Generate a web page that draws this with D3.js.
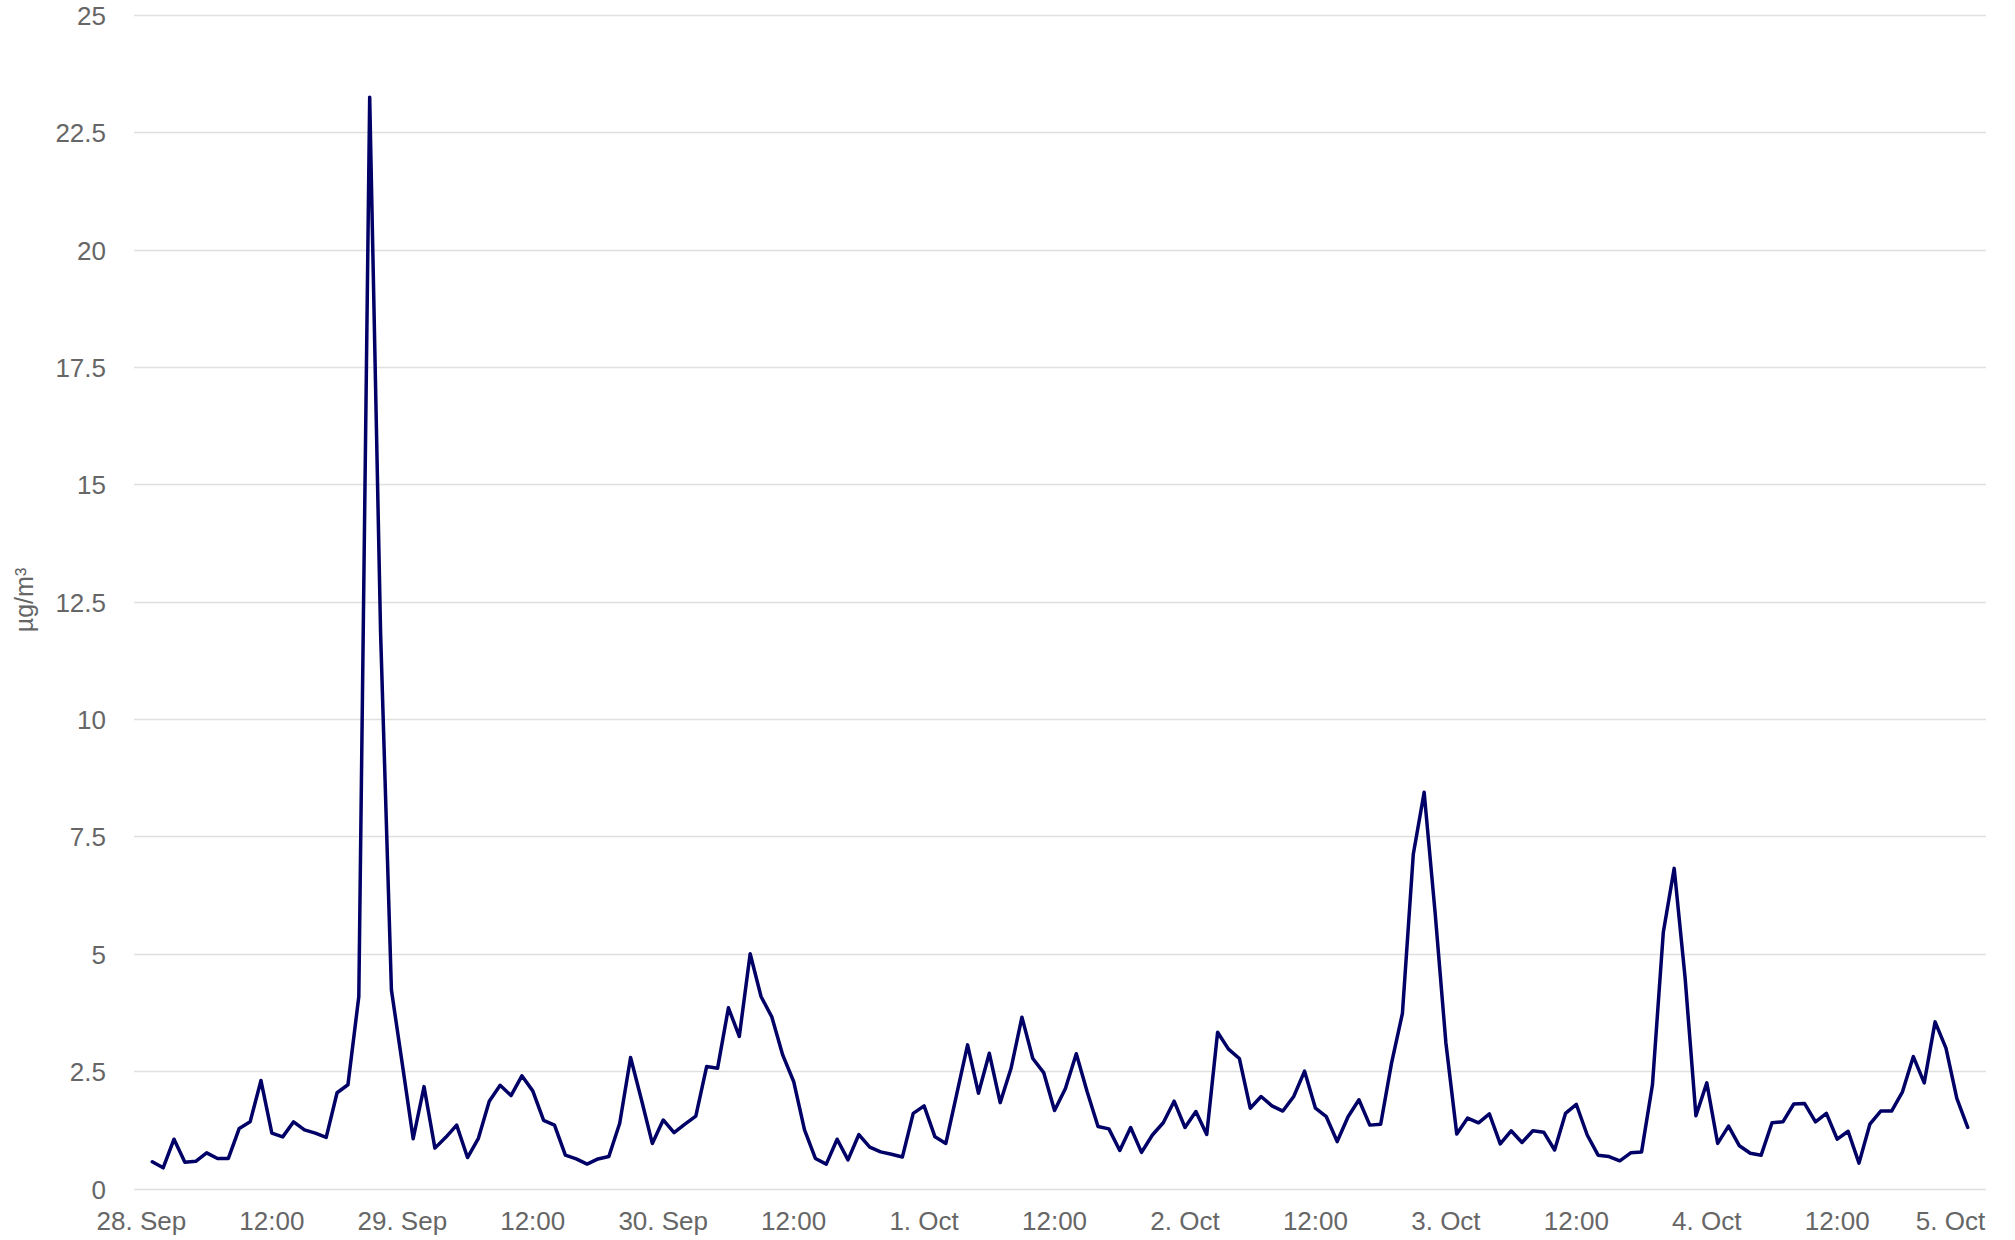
<!DOCTYPE html>
<html>
<head>
<meta charset="utf-8">
<script src="https://cdn.jsdelivr.net/npm/d3@7"></script>
<style>
  html, body { margin: 0; padding: 0; background: #fff; }
  svg { display: block; }
  text { font-family: "Liberation Sans", Arial, Helvetica, sans-serif; fill: #666666; }
</style>
</head>
<body>
<svg id="chart" width="2015" height="1240"></svg>
<script>
// Hourly series starting 28 Sep 01:00
const startTime = Date.UTC(2020, 8, 28, 1);
const values = [
  0.57, 0.44, 1.05, 0.56, 0.58, 0.76, 0.64, 0.64, 1.28, 1.42,
  2.30, 1.18, 1.10, 1.42, 1.25, 1.18, 1.09, 2.04, 2.21, 4.09,
  23.25, 11.86, 4.23, 2.65, 1.06, 2.17, 0.86, 1.09, 1.35, 0.66,
  1.07, 1.86, 2.20, 1.98, 2.40, 2.08, 1.45, 1.35, 0.71, 0.63,
  0.52, 0.63, 0.68, 1.39, 2.79, 1.89, 0.96, 1.46, 1.19, 1.37,
  1.54, 2.60, 2.56, 3.85, 3.24, 5.00, 4.09, 3.65, 2.84, 2.28,
  1.25, 0.64, 0.52, 1.05, 0.61, 1.15, 0.88, 0.78, 0.73, 0.67,
  1.60, 1.76, 1.10, 0.96, 2.01, 3.06, 2.03, 2.88, 1.83, 2.56,
  3.65, 2.77, 2.47, 1.66, 2.13, 2.87, 2.06, 1.32, 1.27, 0.81,
  1.30, 0.77, 1.14, 1.40, 1.86, 1.30, 1.64, 1.15, 3.33, 2.97,
  2.77, 1.71, 1.96, 1.76, 1.65, 1.96, 2.50, 1.71, 1.53, 1.00,
  1.53, 1.89, 1.35, 1.37, 2.67, 3.73, 7.12, 8.44, 5.90, 3.10,
  1.16, 1.50, 1.40, 1.59, 0.95, 1.23, 0.98, 1.23, 1.20, 0.82,
  1.60, 1.79, 1.14, 0.71, 0.68, 0.59, 0.76, 0.78, 2.21, 5.46,
  6.82, 4.50, 1.55, 2.25, 0.96, 1.33, 0.91, 0.75, 0.71, 1.40,
  1.42, 1.80, 1.81, 1.42, 1.60, 1.05, 1.22, 0.54, 1.37, 1.65,
  1.65, 2.06, 2.81, 2.25, 3.55, 2.99, 1.92, 1.30
];
const yTicks = [0, 2.5, 5, 7.5, 10, 12.5, 15, 17.5, 20, 22.5, 25];
const xTickLabels = ["28. Sep", "12:00", "29. Sep", "12:00", "30. Sep", "12:00",
  "1. Oct", "12:00", "2. Oct", "12:00", "3. Oct", "12:00", "4. Oct", "12:00", "5. Oct"];
const yTitle = "µg/m³";

const HOUR = 3600 * 1000;
const times = values.map((v, i) => new Date(startTime + i * HOUR));
const tickStart = Date.UTC(2020, 8, 28, 0);
const xTickDates = xTickLabels.map((t, i) => new Date(tickStart + i * 12 * HOUR));

const plotLeft = 134, plotRight = 1986, plotTop = 15, plotBottom = 1188.5;

const x = d3.scaleUtc()
  .domain([new Date(tickStart), new Date(tickStart + 7 * 24 * HOUR)])
  .range([141.4, 1967.7]);
const y = d3.scaleLinear().domain([0, 25]).range([plotBottom, plotTop]);

const svg = d3.select("#chart");

// grid lines
svg.append("g").selectAll("line").data(yTicks).join("line")
  .attr("x1", plotLeft).attr("x2", plotRight)
  .attr("y1", d => Math.round(y(d)) + 0.5).attr("y2", d => Math.round(y(d)) + 0.5)
  .attr("stroke", "#e0e0e0").attr("stroke-width", 1.5);

// y labels
svg.append("g").selectAll("text").data(yTicks).join("text")
  .attr("x", 106).attr("y", d => y(d) + 10)
  .attr("text-anchor", "end")
  .style("font-size", "26px")
  .text(d => d3.format("~g")(d));

// y title
svg.append("text")
  .attr("transform", "translate(33,600) rotate(-90)")
  .attr("text-anchor", "middle")
  .style("font-size", "25px")
  .text(yTitle);

// x labels
const xg = svg.append("g");
xg.selectAll("text").data(xTickDates).join("text")
  .attr("x", d => x(d)).attr("y", 1230)
  .attr("text-anchor", "middle")
  .style("font-size", "26px")
  .text((d, i) => xTickLabels[i])
  .each(function() {
    const bb = this.getBBox();
    if (bb.x + bb.width > plotRight) {
      d3.select(this).attr("x", +d3.select(this).attr("x") - (bb.x + bb.width - plotRight));
    }
  });

// line
const line = d3.line().x((d, i) => x(times[i])).y(d => y(d));
svg.append("path").datum(values)
  .attr("d", line)
  .attr("fill", "none")
  .attr("stroke", "#000066")
  .attr("stroke-width", 3.5)
  .attr("stroke-linejoin", "round")
  .attr("stroke-linecap", "round");
</script>
</body>
</html>
